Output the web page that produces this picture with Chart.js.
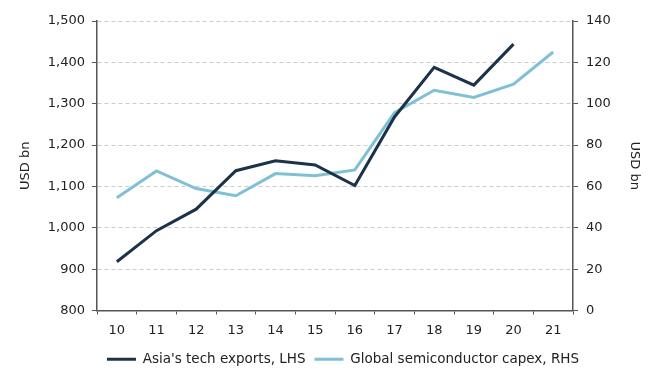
<!DOCTYPE html>
<html>
<head>
<meta charset="utf-8">
<script src="https://cdn.jsdelivr.net/npm/chart.js@4/dist/chart.umd.min.js"></script>
<style>
html,body{margin:0;padding:0;background:#fff;font-family:"DejaVu Sans";}
#wrap{width:656px;height:376px;position:relative;}
</style>
</head>
<body>
<div id="wrap"><canvas id="c" width="656" height="376"></canvas></div>
<script>
const years = ["10","11","12","13","14","15","16","17","18","19","20","21"];
const asiaTechExports = [918, 993, 1045, 1138, 1162, 1152, 1102, 1268, 1388, 1345, 1444, null];
const semiCapex = [54.5, 67.5, 59, 55.5, 66.2, 65.2, 68, 95.7, 106.5, 103, 109.5, 125];
const leftTicks = [800, 900, 1000, 1100, 1200, 1300, 1400, 1500];
const rightTicks = [0, 20, 40, 60, 80, 100, 120, 140];
const seriesNames = ["Asia's tech exports, LHS", "Global semiconductor capex, RHS"];

const FONT = '"DejaVu Sans"';
const DARK = "#1b3249";
const LIGHT = "#80c0d4";
const AXIS = "#555555";

function draw() {
Chart.defaults.font.family = FONT;
Chart.defaults.font.size = 13;
Chart.defaults.color = "#222";

new Chart(document.getElementById('c'), {
  type: 'line',
  data: {
    labels: years,
    datasets: [
      {label: seriesNames[0], data: asiaTechExports, yAxisID: 'y', borderColor: DARK, backgroundColor: DARK, borderWidth: 3, pointRadius: 0, tension: 0, spanGaps: false},
      {label: seriesNames[1], data: semiCapex, yAxisID: 'y1', borderColor: LIGHT, backgroundColor: LIGHT, borderWidth: 3, pointRadius: 0, tension: 0}
    ]
  },
  options: {
    responsive: false,
    animation: false,
    devicePixelRatio: 1,
    layout: {padding: {left: 30, right: 0, top: 21, bottom: 0}},
    plugins: {
      tooltip: {enabled: false},
      legend: {
        position: 'bottom',
        labels: {
          boxWidth: 29, boxHeight: 3, padding: 9,
          font: {size: 13.5, family: FONT}, color: '#222',
          generateLabels: (chart) => Chart.defaults.plugins.legend.labels.generateLabels(chart).map(l => Object.assign(l, {lineWidth: 0}))
        }
      }
    },
    scales: {
      x: {
        offset: true,
        grid: {display: true, drawOnChartArea: false, offset: true, tickLength: 4, tickColor: AXIS, color: AXIS},
        border: {color: AXIS, width: 1.5},
        ticks: {padding: 8, color: '#222', maxRotation: 0, font: {family: FONT, size: 13}},
        afterFit: (s) => { s.height = 33; }
      },
      y: {
        position: 'left',
        min: 800, max: 1500,
        afterBuildTicks: (s) => { s.ticks = leftTicks.map(v => ({value: v})); },
        ticks: {padding: 7, color: '#222', font: {family: FONT, size: 13}, callback: (v) => v.toLocaleString('en-US')},
        grid: {color: '#cccccc', tickColor: AXIS, tickBorderDash: [], tickLength: 5, lineWidth: 1},
        border: {color: AXIS, width: 1.5, dash: [4, 3]},
        title: {display: true, text: 'USD bn', color: '#222', font: {family: FONT, size: 13}, padding: {top: -12, bottom: 4}},
        afterFit: (s) => { s.width = 67; }
      },
      y1: {
        position: 'right',
        min: 0, max: 140,
        afterBuildTicks: (s) => { s.ticks = rightTicks.map(v => ({value: v})); },
        ticks: {padding: 8, color: '#222', font: {family: FONT, size: 13}},
        grid: {drawOnChartArea: false, tickColor: AXIS, tickLength: 5},
        border: {color: AXIS, width: 1.5},
        title: {display: true, text: 'USD bn', color: '#222', font: {family: FONT, size: 13}, padding: {top: 14, bottom: 0}},
        afterFit: (s) => { s.width = 83; }
      }
    }
  }
});
}
if (document.fonts && document.fonts.load) {
  Promise.all([document.fonts.load('13px "DejaVu Sans"'), document.fonts.ready]).then(draw, draw);
} else { draw(); }
</script>
</body>
</html>
